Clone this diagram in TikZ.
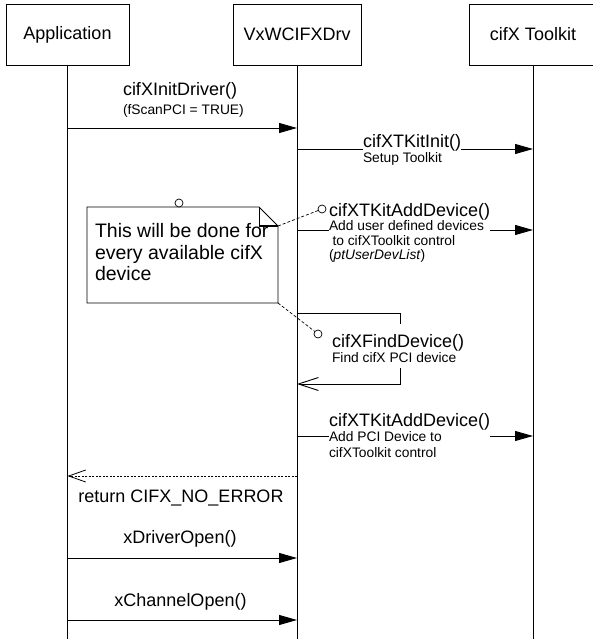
\documentclass[tikz,border=0pt]{standalone}
\usepackage{fontspec}
\setmainfont{Liberation Sans}
\usetikzlibrary{arrows.meta}
\begin{document}
\begin{tikzpicture}[x=1pt,y=-1pt,
  every node/.style={inner sep=0pt, outer sep=0pt},
  obj/.style={draw, line width=0.9pt, minimum width=#1, minimum height=61pt, font=\fontsize{18}{21}\selectfont},
  life/.style={line width=0.9pt},
  msg/.style={line width=0.9pt, -{Triangle[length=18pt,width=10pt]}},
  ret/.style={line width=0.8pt, dash pattern=on 2pt off 1.5pt, -{Straight Barb[length=17pt,width=12pt,line width=0.8pt]}},
  selfret/.style={line width=0.9pt, -{Straight Barb[length=20pt,width=13pt,line width=0.9pt]}},
  big/.style={font=\fontsize{18}{21}\selectfont},
  lbl/.style={anchor=north west, align=left, fill=white, font=\fontsize{13.8}{#1}\selectfont},
  pin/.style={circle, draw, line width=0.7pt, minimum size=8pt, fill=white},
  link/.style={line width=0.7pt, dash pattern=on 3pt off 2pt},
]
\useasboundingbox (0,0) rectangle (592,639);

% objects
\node[obj=123pt] (app) at (67.5,34.5) {Application};
\node[obj=128pt] (drv) at (297,34.5) {VxWCIFXDrv};
\node[obj=128pt] (tk) at (533,34.5) {cifX Toolkit};

% lifelines
\coordinate (appEnd) at (67.5,639);
\coordinate (drvEnd) at (297,639);
\coordinate (tkEnd) at (533,639);
\draw[life] (app.south) -- (appEnd);
\draw[life] (drv.south) -- (drvEnd);
\draw[life] (tk.south) -- (tkEnd);

% message 1
\coordinate (m1a) at (67.5,128); \coordinate (m1b) at (297,128);
\draw[msg] (m1a) -- (m1b);
\node[lbl=19] (l1) at (123,82) {{\fontsize{18}{19}\selectfont cifXInitDriver()}\\(fScanPCI = TRUE)};

% message 2
\coordinate (m2a) at (297,149); \coordinate (m2b) at (533,149);
\draw[msg] (m2a) -- (m2b);
\node[lbl=15.5] (l2) at (363,134) {{\fontsize{18}{15.5}\selectfont cifXTKitInit()\hspace{4pt}}\\Setup Toolkit};

% message 3
\coordinate (m3a) at (297,230); \coordinate (m3b) at (533,230);
\draw[msg] (m3a) -- (m3b);
\node[lbl=14.5] (l3) at (329,203) {{\fontsize{18}{14.5}\selectfont cifXTKitAddDevice()\hspace{3pt}}\\Add user defined devices\\\hspace{3.5pt}to cifXToolkit control\\(\textit{ptUserDevList})};

% self message
\coordinate (s1) at (297,313); \coordinate (s2) at (400,313); \coordinate (s3) at (400,324);
\coordinate (s4) at (400,368); \coordinate (s5) at (400,384); \coordinate (s6) at (297,384);
\draw[life] (s1) -- (s2) -- (s3);
\draw[selfret] (s4) -- (s5) -- (s6);
\node[lbl=15] (l4) at (332,334) {{\fontsize{18}{15}\selectfont cifXFindDevice()}\\Find cifX PCI device};

% message 5
\coordinate (m5a) at (297,436); \coordinate (m5b) at (533,436);
\draw[msg] (m5a) -- (m5b);
\node[lbl=15.5] (l5) at (329,413) {{\fontsize{18}{15.5}\selectfont cifXTKitAddDevice()\hspace{2pt}}\\Add PCI Device to\\cifXToolkit control};

% return
\coordinate (r1) at (297,476); \coordinate (r2) at (67.5,476);
\draw[ret] (r1) -- (r2);
\node[big, anchor=north] (l6) at (181,490) {return CIFX\_NO\_ERROR};

% xDriverOpen
\coordinate (d1) at (67.5,558); \coordinate (d2) at (297,558);
\draw[msg] (d1) -- (d2);
\node[big, anchor=north] (l7) at (180,530) {xDriverOpen()};

% xChannelOpen
\coordinate (c1) at (67.5,620); \coordinate (c2) at (297,620);
\draw[msg] (c1) -- (c2);
\node[big, anchor=north] (l8) at (180.5,593) {xChannelOpen()};

% note
\node[minimum width=191pt, minimum height=96pt] (note) at (182.5,255) {};
\draw[line width=0.8pt] (note.north west) -- ([xshift=-19pt]note.north east) -- ([yshift=-19pt]note.north east) -- (note.south east) -- (note.south west) -- cycle;
\draw[line width=0.8pt] ([xshift=-19pt]note.north east) -- ([xshift=-19pt,yshift=-19pt]note.north east);
\draw[line width=1.6pt] ([xshift=-19pt,yshift=-19pt]note.north east) -- ([yshift=-19pt]note.north east);
\node[anchor=north west, align=left, font=\fontsize{19.5}{21.5}\selectfont] (notetext) at (95,223.5) {This will be done for\\every available cifX\\device};

% pins and links
\node[pin] (p0) at (179,203) {};
\node[pin] (p1) at (322,209) {};
\node[pin] (p2) at (318,334) {};
\draw[link] ([yshift=-19pt]note.north east) -- (p1);
\draw[link] (note.south east) -- (p2);
\end{tikzpicture}
\end{document}
